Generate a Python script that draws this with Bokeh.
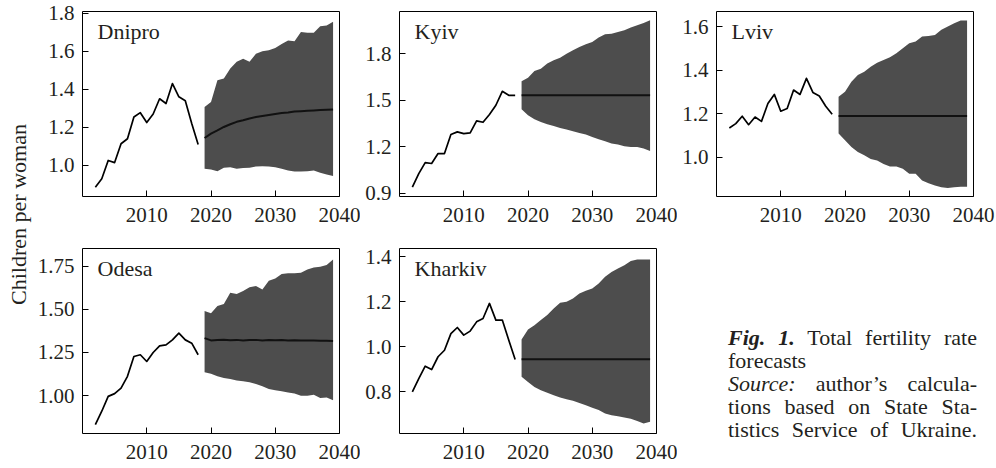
from math import pi
from bokeh.plotting import figure
from bokeh.models import FixedTicker, NumeralTickFormatter, Label, Range1d, Div
from bokeh.layouts import row, column
from bokeh.embed import file_html
from bokeh.resources import INLINE

# ---------------- data ----------------
hist_years = list(range(2002, 2019))
fc_years = list(range(2019, 2040))
x_ticks = [2010, 2020, 2030, 2040]

dnipro_hist = [0.886, 0.93, 1.026, 1.015, 1.114, 1.14, 1.254, 1.277, 1.225, 1.27,
               1.35, 1.325, 1.43, 1.36, 1.34, 1.22, 1.11]
dnipro_mean = [1.144, 1.167, 1.184, 1.202, 1.216, 1.229, 1.237, 1.246, 1.254, 1.260, 1.265,
               1.270, 1.275, 1.278, 1.283, 1.285, 1.287, 1.289, 1.291, 1.292, 1.293]
dnipro_lo = [0.982, 0.979, 0.970, 0.988, 0.991, 0.982, 0.986, 0.988, 0.995, 0.996, 0.995,
             0.991, 0.982, 0.973, 0.968, 0.968, 0.970, 0.973, 0.961, 0.952, 0.944]
dnipro_hi = [1.307, 1.333, 1.447, 1.456, 1.509, 1.544, 1.560, 1.544, 1.586, 1.600, 1.605,
             1.617, 1.638, 1.656, 1.652, 1.700, 1.696, 1.696, 1.731, 1.735, 1.754]

kyiv_hist = [0.94, 1.027, 1.098, 1.092, 1.156, 1.156, 1.279, 1.296, 1.285, 1.29,
             1.367, 1.358, 1.408, 1.468, 1.558, 1.532, 1.532]
kyiv_mean = [1.532] * 21
kyiv_lo = [1.442, 1.403, 1.377, 1.360, 1.345, 1.334, 1.321, 1.311, 1.300, 1.289, 1.279,
           1.263, 1.248, 1.235, 1.221, 1.214, 1.203, 1.199, 1.199, 1.188, 1.173]
kyiv_hi = [1.623, 1.646, 1.689, 1.704, 1.737, 1.758, 1.775, 1.801, 1.823, 1.844, 1.861,
           1.876, 1.905, 1.926, 1.930, 1.941, 1.952, 1.969, 1.984, 1.999, 2.016]

lviv_hist = [1.134, 1.154, 1.188, 1.149, 1.184, 1.164, 1.246, 1.288, 1.211, 1.223,
             1.308, 1.288, 1.362, 1.297, 1.281, 1.234, 1.197]
lviv_mean = [1.189] * 21
lviv_lo = [1.108, 1.077, 1.046, 1.023, 1.008, 0.991, 0.984, 0.968, 0.957, 0.957, 0.946,
           0.923, 0.923, 0.892, 0.880, 0.869, 0.861, 0.858, 0.861, 0.864, 0.864]
lviv_hi = [1.277, 1.300, 1.346, 1.377, 1.392, 1.415, 1.434, 1.446, 1.459, 1.477, 1.500,
           1.523, 1.531, 1.554, 1.557, 1.561, 1.585, 1.600, 1.615, 1.628, 1.628]

odesa_hist = [0.833, 0.91, 0.996, 1.012, 1.044, 1.112, 1.227, 1.237, 1.198, 1.25,
              1.288, 1.294, 1.323, 1.362, 1.323, 1.304, 1.237]
odesa_mean = [1.333, 1.320, 1.322, 1.324, 1.321, 1.323, 1.320, 1.322, 1.323, 1.320, 1.322,
              1.321, 1.322, 1.320, 1.321, 1.320, 1.319, 1.319, 1.318, 1.318, 1.317]
odesa_lo = [1.135, 1.127, 1.112, 1.102, 1.096, 1.088, 1.083, 1.077, 1.067, 1.054, 1.038,
            1.031, 1.025, 1.019, 1.012, 1.000, 1.000, 1.006, 0.987, 0.990, 0.973]
odesa_hi = [1.490, 1.477, 1.519, 1.531, 1.596, 1.588, 1.606, 1.627, 1.635, 1.615, 1.665,
            1.679, 1.704, 1.708, 1.708, 1.712, 1.731, 1.742, 1.746, 1.756, 1.788]

kharkiv_hist = [0.80, 0.859, 0.914, 0.899, 0.956, 0.985, 1.059, 1.086, 1.052, 1.070,
                1.111, 1.126, 1.193, 1.119, 1.119, 1.030, 0.944]
kharkiv_mean = [0.945] * 21
kharkiv_lo = [0.867, 0.844, 0.822, 0.807, 0.796, 0.785, 0.775, 0.767, 0.760, 0.751, 0.741,
              0.729, 0.719, 0.704, 0.696, 0.692, 0.686, 0.681, 0.671, 0.659, 0.667]
kharkiv_hi = [1.033, 1.077, 1.096, 1.119, 1.141, 1.170, 1.196, 1.200, 1.215, 1.237, 1.249,
              1.259, 1.281, 1.311, 1.333, 1.348, 1.363, 1.382, 1.388, 1.388, 1.388]

y_label = "Children per woman"
caption_lines = ["Total fertility rate", "forecasts", "author\u2019s calcula-",
                 "tions based on State Sta-", "tistics Service of Ukraine."]

# ---------------- style ----------------
FONT = "Liberation Serif"
TXT = "#231f20"
BAND = "#4d4d4d"
FW = 257
FH = 185


def panel(name, hist, mean, lo, hi, yr, yticks, yfmt, left, right, top, bottom):
    p = figure(frame_width=FW, frame_height=FH,
               x_range=Range1d(2000, 2040), y_range=Range1d(*yr),
               min_border_left=left, min_border_right=right,
               min_border_top=top, min_border_bottom=bottom,
               toolbar_location=None, output_backend="svg",
               background_fill_color="white", border_fill_color="white",
               outline_line_color="black", outline_line_width=1)
    p.grid.visible = False
    p.varea(x=fc_years, y1=lo, y2=hi, fill_color=BAND, fill_alpha=1.0)
    p.line(hist_years, hist, line_color="black", line_width=1.7, line_join="round")
    p.line(fc_years, mean, line_color="#111111", line_width=2.0, line_join="round")

    p.xaxis.ticker = FixedTicker(ticks=x_ticks)
    p.yaxis.ticker = FixedTicker(ticks=yticks)
    p.yaxis.formatter = NumeralTickFormatter(format=yfmt)
    for ax in (p.xaxis[0], p.yaxis[0]):
        ax.axis_line_color = None
        ax.major_tick_in = 6
        ax.major_tick_out = 0
        ax.major_tick_line_color = "black"
        ax.minor_tick_line_color = None
        ax.major_label_text_font = FONT
        ax.major_label_text_font_size = "21px"
        ax.major_label_text_color = TXT
    p.yaxis.major_label_standoff = 8
    p.xaxis.major_label_standoff = 11

    span = yr[1] - yr[0]
    p.add_layout(Label(x=2000 + 15 * 40 / FW, y=yr[1] - 20 * span / FH, text=name,
                       text_font=FONT, text_font_size="22px", text_color=TXT,
                       text_baseline="middle", text_align="left"))
    return p


p1 = panel("Dnipro", dnipro_hist, dnipro_mean, dnipro_lo, dnipro_hi, (0.837, 1.808),
           [1.0, 1.2, 1.4, 1.6, 1.8], "0.0", 48, 21, 11, 40)
p2 = panel("Kyiv", kyiv_hist, kyiv_mean, kyiv_lo, kyiv_hi, (0.879, 2.073),
           [0.9, 1.2, 1.5, 1.8], "0.0", 39, 21, 11, 40)
p3 = panel("Lviv", lviv_hist, lviv_mean, lviv_lo, lviv_hi, (0.819, 1.669),
           [1.0, 1.2, 1.4, 1.6], "0.0", 39, 23, 11, 40)
p4 = panel("Odesa", odesa_hist, odesa_mean, odesa_lo, odesa_hi, (0.781, 1.852),
           [1.0, 1.25, 1.5, 1.75], "0.00", 48, 21, 12, 35)
p5 = panel("Kharkiv", kharkiv_hist, kharkiv_mean, kharkiv_lo, kharkiv_hi, (0.615, 1.437),
           [0.8, 1.0, 1.2, 1.4], "0.0", 39, 21, 12, 35)

H_TOTAL = 468
ylab = figure(width=34, height=H_TOTAL, x_range=Range1d(0, 34), y_range=Range1d(0, H_TOTAL),
              min_border=0, toolbar_location=None, output_backend="svg",
              outline_line_color=None, background_fill_color="white", border_fill_color="white")
ylab.axis.visible = False
ylab.grid.visible = False
ylab.add_layout(Label(x=17.5, y=H_TOTAL - 214, text=y_label, angle=pi / 2,
                      text_font=FONT, text_font_size="22px", text_color=TXT,
                      text_align="center", text_baseline="middle"))

J = "text-align:justify;text-align-last:justify;"
cap_html = (
    '<div style="box-sizing:content-box;padding-left:51px;padding-top:90px;width:249px;'
    'font-family:\'Liberation Serif\';font-size:22px;line-height:23px;color:%s;">' % TXT
    + '<div style="%s"><b><i>Fig.&nbsp;1.</i></b> %s</div>' % (J, caption_lines[0])
    + '<div>%s</div>' % caption_lines[1]
    + '<div style="%s"><i>Source:</i> %s</div>' % (J, caption_lines[2])
    + '<div style="%s">%s</div>' % (J, caption_lines[3])
    + '<div style="%s">%s</div>' % (J, caption_lines[4])
    + '</div>'
)
cap = Div(text=cap_html, width=319, height=225, margin=0)

layout = row(ylab, column(row(p1, p2, p3), row(p4, p5, cap)))

open("out.html", "w").write(file_html(layout, INLINE))
